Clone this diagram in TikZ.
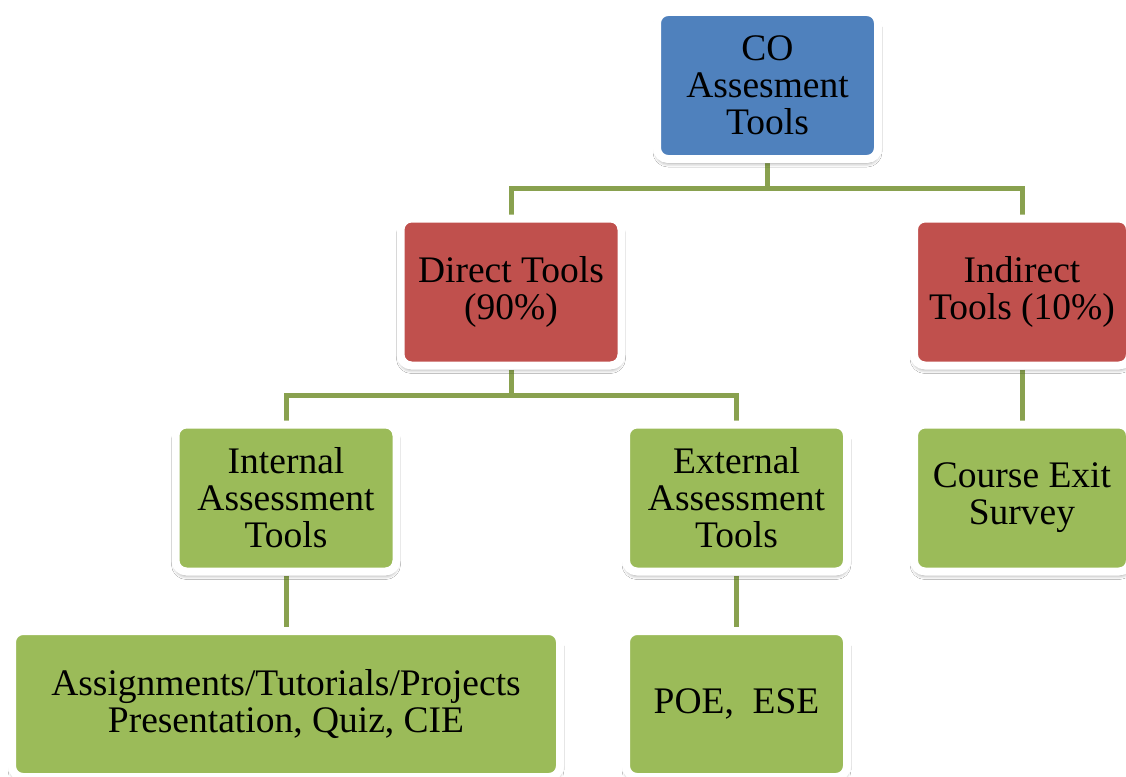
\documentclass[tikz,border=0pt]{standalone}
\usepackage{fontspec}
\setmainfont{Liberation Serif}
\usetikzlibrary{backgrounds,shadows.blur}
\definecolor{azul}{RGB}{79,129,189}
\definecolor{rojo}{RGB}{192,80,77}
\definecolor{verde}{RGB}{155,187,89}
\definecolor{linea}{RGB}{137,161,79}
\begin{document}
\begin{tikzpicture}[x=1pt,y=-1pt,every node/.style={font=\fontsize{37.5}{37}\selectfont,align=center},tbox/.style={draw=white,line width=8pt,rounded corners=11pt,minimum width=221pt,minimum height=147pt,inner sep=0pt,blur shadow={shadow xshift=0pt,shadow yshift=-4pt,shadow blur radius=4pt,shadow opacity=45}},link/.style={draw=linea,line width=5pt}]
\useasboundingbox (0,0) rectangle (1126,776);
\node[tbox,fill=azul] (co) at (767.5,85.5) {CO\\Assesment\\Tools};
\node[tbox,fill=rojo] (dir) at (511,292) {Direct Tools\\(90\%)};
\node[tbox,fill=rojo,minimum width=216pt] (ind) at (1022,292) {Indirect\\Tools (10\%)};
\node[tbox,fill=verde] (int) at (286,498) {Internal\\Assessment\\Tools};
\node[tbox,fill=verde] (ext) at (736.5,498) {External\\Assessment\\Tools};
\node[tbox,fill=verde,minimum width=216pt] (ces) at (1022,498) {Course Exit\\Survey};
\node[tbox,fill=verde,minimum width=548pt,minimum height=146pt] (asg) at (286,704) {Assignments/Tutorials/Projects\\Presentation, Quiz, CIE};
\node[tbox,fill=verde,minimum height=146pt] (poe) at (736.5,704) {POE,~~ESE};
\coordinate (t1) at (767.5,188);
\coordinate (t2) at (511,395);
\begin{scope}[on background layer]
\fill[white] (0,0) rectangle (1126,776);
\draw[link] (co.south)--(t1);\draw[link] (dir.north) |- (t1) -| (ind.north);
\draw[link] (dir.south)--(t2);\draw[link] (int.north) |- (t2) -| (ext.north);
\draw[link] (int.south)--(asg.north);\draw[link] (ext.south)--(poe.north);\draw[link] (ind.south)--(ces.north);
\end{scope}
\end{tikzpicture}
\end{document}
